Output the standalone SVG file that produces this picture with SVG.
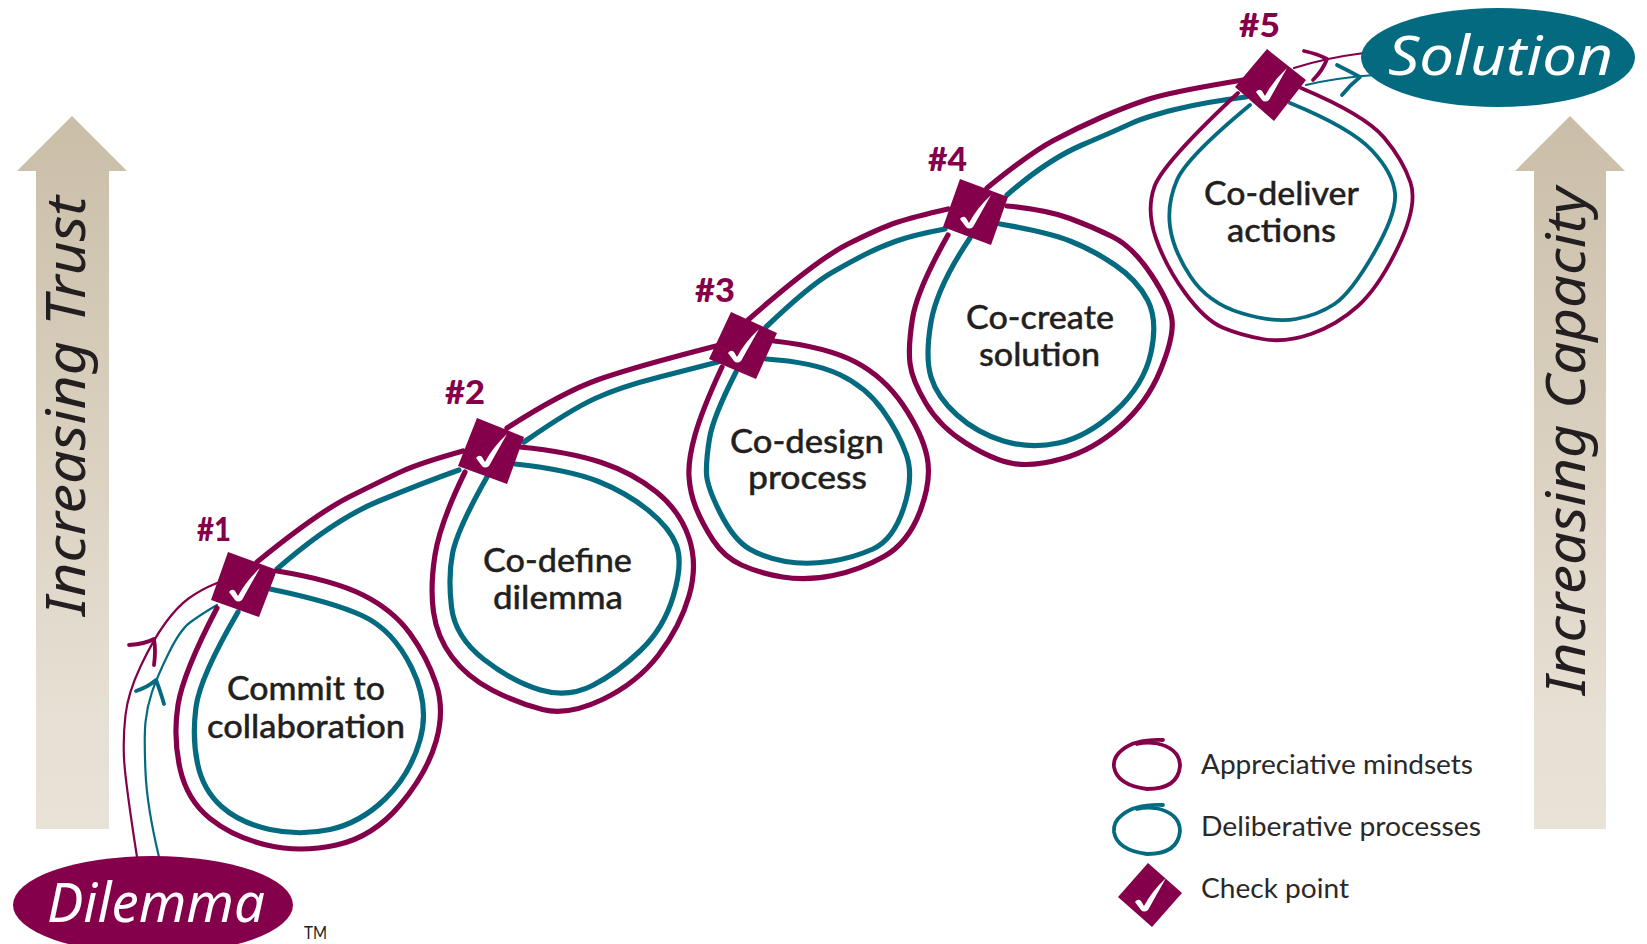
<svg xmlns="http://www.w3.org/2000/svg" width="1647" height="944" viewBox="0 0 1647 944">
<style>
.m{fill:none;stroke:#85004a;stroke-width:5.2;stroke-linecap:round;stroke-linejoin:round}
.t{fill:none;stroke:#036a80;stroke-width:5.2;stroke-linecap:round;stroke-linejoin:round}
.thin{stroke-width:2.2}
.mid{stroke-width:3.8}
.lab{font-family:"Lato","Open Sans",sans-serif;font-size:33px;font-weight:500;fill:#231f20;stroke:#231f20;stroke-width:.4}
.leg{font-family:"Lato","Open Sans",sans-serif;font-size:26px;fill:#2b2829}
.num{font-family:"Lato","Open Sans",sans-serif;font-size:32px;font-weight:900;fill:#85004a}
.hand{font-family:"Noto Sans","Open Sans",sans-serif;font-style:italic;font-size:54px}
.dia{fill:#85004a}
.chk{fill:#fff}
</style>
<defs>
<linearGradient id="g" gradientUnits="userSpaceOnUse" x1="0" y1="116" x2="0" y2="830">
<stop offset="0" stop-color="#cabea8"/><stop offset="0.85" stop-color="#e7e0d4"/><stop offset="1" stop-color="#e8e2d7"/>
</linearGradient>
<path id="c" d="M-15 7Q-12 3-9 6L-6 11Q2-4 16-17Q7-1-2 15Q-6 18-9 15Q-12 11-15 7Z"/>
</defs>

<g id="arrow-trust">
<path d="M72 116L127 171H109V829H36V171H17Z" fill="url(#g)"/>
<text class="hand" fill="#231f20" transform="translate(85,616) rotate(-90)" textLength="420" lengthAdjust="spacingAndGlyphs">Increasing Trust</text>
</g>
<g id="arrow-capacity">
<path d="M1570 116L1625 171H1606V829H1534V171H1515Z" fill="url(#g)"/>
<text class="hand" fill="#231f20" transform="translate(1585,695) rotate(-90)" textLength="508" lengthAdjust="spacingAndGlyphs">Increasing Capacity</text>
</g>

<g id="connectors">
<path class="m thin" d="M137 857Q125 780 124 758Q123 737 125.500 715Q128 693 140.500 666.500Q153 640 165 623.500Q177 607 188.500 598.500Q200 590 217 583"/>
<path class="t thin" d="M159 857Q147 807 145.500 772Q144 737 145.500 722Q147 707 152 692Q157 677 168.500 653.500Q180 630 190 622.500Q200 615 217 605"/>
<path class="m mid" d="M129 645Q145 644 154 639Q156 650 154 665"/>
<path class="t mid" d="M136 691Q148 687 156 680Q160 690 164 704"/>
<path class="m" d="M257 562Q317 513 350 496.500Q383 480 401.500 471.500Q420 463 463 451"/>
<path class="t" d="M277 569Q333 520 379 501Q425 482 459 470"/>
<path class="m" d="M507 428Q563 392 598.500 379.500Q634 367 716 346"/>
<path class="t" d="M524 442Q570 410 595 398.500Q620 387 659.500 377Q699 367 718 362"/>
<path class="m" d="M748 320Q816 260 848 244Q880 228 896.500 222.500Q913 217 948 209"/>
<path class="t" d="M766 327Q810 285 832 272.500Q854 260 867 253.500Q880 247 896.500 241Q913 235 945 229"/>
<path class="m" d="M987 188Q1030 153 1053.500 140.500Q1077 128 1101 117.500Q1125 107 1147.500 99.500Q1170 92 1243 80"/>
<path class="t" d="M1007 195Q1047 160 1082 145Q1117 130 1131 123.500Q1145 117 1175 109.500Q1205 102 1246 97"/>
<path class="m thin" d="M1294 68Q1325 58 1364 53"/>
<path class="t thin" d="M1306 85Q1335 78 1374 75"/>
<path class="m mid" d="M1304 51Q1318 54 1327 59Q1323 70 1313 80"/>
<path class="t mid" d="M1337 65Q1349 71 1360 77Q1350 85 1342 95"/>
</g>

<g id="step-1">
<path class="m" d="M277 571Q333 580 363 595Q393 610 410 633.500Q427 657 436 683.500Q445 710 436 741.500Q427 773 400 805Q373 837 336.500 845Q300 853 266.500 845Q233 837 210 818.500Q187 800 180 768.500Q173 737 178 705Q183 673 217 608"/>
<path class="t" d="M270 589Q333 602 363 616Q393 630 411.500 667.500Q430 705 420 740Q410 775 385 799Q360 823 330 829.500Q300 836 270 829.500Q240 823 221.500 806.500Q203 790 197.500 763.500Q192 737 196 707Q200 677 238 612"/>
<text class="lab" x="227" y="700" textLength="158" lengthAdjust="spacingAndGlyphs">Commit to</text>
<text class="lab" x="207" y="738" textLength="198" lengthAdjust="spacingAndGlyphs">collaboration</text>
</g>
<g id="step-2">
<path class="m" d="M520 447Q570 452 601.500 462.500Q633 473 656.500 492Q680 511 689 538Q698 565 689 596Q680 627 658.500 655Q637 683 602.500 699.500Q568 716 542.500 709.500Q517 703 492 690Q467 677 452 657Q437 637 433.500 612Q430 587 435 555Q440 523 465 472"/>
<path class="t" d="M515 464Q570 470 598.500 481.500Q627 493 648.500 510.500Q670 528 676.500 545.500Q683 563 673.500 595.500Q664 628 640.500 650.500Q617 673 592.500 685.500Q568 698 540.500 690Q513 682 484 659.500Q455 637 451.500 607Q448 577 452.500 553.500Q457 530 487 477"/>
<text class="lab" x="483" y="572" textLength="149" lengthAdjust="spacingAndGlyphs">Co-define</text>
<text class="lab" x="493" y="609" textLength="130" lengthAdjust="spacingAndGlyphs">dilemma</text>
</g>
<g id="step-3">
<path class="m" d="M774 341Q827 347 855.500 362Q884 377 903 405Q922 433 927 456.500Q932 480 920 511.500Q908 543 884 556.500Q860 570 833 575.500Q806 581 782.500 577Q759 573 741.500 565Q724 557 713 540Q702 523 696 508Q690 493 689 476.500Q688 460 695 435Q702 410 722 367"/>
<path class="t" d="M766 359Q813 362 839.500 374.500Q866 387 882.500 410Q899 433 906.500 455Q914 477 903.500 508.500Q893 540 873 549Q853 558 829.500 561.500Q806 565 785.500 561.500Q765 558 749.500 549Q734 540 720.500 513.500Q707 487 706.500 473.500Q706 460 709.500 438.500Q713 417 736 372"/>
<text class="lab" x="730" y="453" textLength="154" lengthAdjust="spacingAndGlyphs">Co-design</text>
<text class="lab" x="748" y="489" textLength="119" lengthAdjust="spacingAndGlyphs">process</text>
</g>
<g id="step-4">
<path class="m" d="M1007 206Q1047 210 1070 218.500Q1093 227 1113 237Q1133 247 1151.500 275Q1170 303 1172 320Q1174 337 1160.500 370Q1147 403 1120 426.500Q1093 450 1063 458.500Q1033 467 1013 463.500Q993 460 966.500 443.500Q940 427 926 403.500Q912 380 910 363.500Q908 347 912.500 318.500Q917 290 948 235"/>
<path class="t" d="M1000 224Q1047 232 1070 241Q1093 250 1115 265Q1137 280 1147.500 300Q1158 320 1151 352.500Q1144 385 1115.500 411Q1087 437 1058.500 443Q1030 449 1003.500 441Q977 433 957 415Q937 397 931 377Q925 357 931 322Q937 287 970 238"/>
<text class="lab" x="966" y="329" textLength="148" lengthAdjust="spacingAndGlyphs">Co-create</text>
<text class="lab" x="979" y="366" textLength="121" lengthAdjust="spacingAndGlyphs">solution</text>
</g>
<g id="step-5">
<path class="m mid" d="M1301 88Q1365 115 1384 137.500Q1403 160 1410.500 182.500Q1418 205 1398.500 246Q1379 287 1358 306Q1337 325 1311 334Q1285 343 1262.500 339Q1240 335 1222.500 327.500Q1205 320 1185.500 293.500Q1166 267 1156 238.500Q1146 210 1154.500 186.500Q1163 163 1238 93"/>
<path class="t mid" d="M1290 103Q1351 128 1372 150.500Q1393 173 1395 193Q1397 213 1374 253Q1351 293 1334.500 304Q1318 315 1296 319Q1274 323 1241 313Q1208 303 1190.500 276.500Q1173 250 1170 226.500Q1167 203 1177 180Q1187 157 1250 105"/>
<text class="lab" x="1204" y="205" textLength="155" lengthAdjust="spacingAndGlyphs">Co-deliver</text>
<text class="lab" x="1227" y="242" textLength="109" lengthAdjust="spacingAndGlyphs">actions</text>
</g>

<g id="check-1"><polygon class="dia" points="228,552 277,570 259,617 211,600"/><use href="#c" class="chk" x="244" y="585"/><text class="num" x="197" y="541" textLength="34" lengthAdjust="spacingAndGlyphs">#1</text></g>
<g id="check-2"><polygon class="dia" points="477,418 524,437 507,484 458,466"/><use href="#c" class="chk" x="491" y="451"/><text class="num" x="445" y="404" textLength="40" lengthAdjust="spacingAndGlyphs">#2</text></g>
<g id="check-3"><polygon class="dia" points="731,312 777,333 756,379 709,359"/><use href="#c" class="chk" x="743" y="346"/><text class="num" x="695" y="302" textLength="40" lengthAdjust="spacingAndGlyphs">#3</text></g>
<g id="check-4"><polygon class="dia" points="960,179 1008,197 991,245 943,227"/><use href="#c" class="chk" x="975" y="212"/><text class="num" x="928" y="171" textLength="39" lengthAdjust="spacingAndGlyphs">#4</text></g>
<g id="check-5"><polygon class="dia" points="1267,49 1306,80 1274,121 1235,87"/><use href="#c" class="chk" x="1271" y="85"/><text class="num" x="1239" y="37" textLength="41" lengthAdjust="spacingAndGlyphs">#5</text></g>

<g id="dilemma">
<ellipse cx="153" cy="905" rx="140" ry="49" fill="#85004a"/>
<text class="hand" fill="#fff" x="47" y="922" textLength="218" lengthAdjust="spacingAndGlyphs">Dilemma</text>
<text x="304" y="939" font-family="Lato,sans-serif" font-size="17" fill="#231f20" textLength="23" lengthAdjust="spacingAndGlyphs">TM</text>
</g>
<g id="solution">
<ellipse cx="1498" cy="57.500" rx="137" ry="49.500" fill="#036a80"/>
<text class="hand" fill="#fff" x="1388" y="75" textLength="225" lengthAdjust="spacingAndGlyphs">Solution</text>
</g>

<g id="legend-mindsets">
<path class="m mid" d="M1163 740Q1135 739 1122 750Q1113 757 1114 767Q1117 785 1147 789Q1178 789 1180 766Q1180 748 1155 743Q1145 742 1137 744"/>
<text class="leg" x="1201" y="774" textLength="272" lengthAdjust="spacingAndGlyphs">Appreciative mindsets</text>
</g>
<g id="legend-processes">
<path class="t mid" d="M1163 805Q1135 804 1122 815Q1113 822 1114 832Q1117 850 1147 854Q1178 854 1180 831Q1180 813 1155 808Q1145 807 1137 809"/>
<text class="leg" x="1201" y="836" textLength="280" lengthAdjust="spacingAndGlyphs">Deliberative processes</text>
</g>
<g id="legend-check">
<polygon class="dia" points="1148,863 1182,893 1152,927 1118,897"/><use href="#c" class="chk" x="1150" y="895"/>
<text class="leg" x="1201" y="898" textLength="148" lengthAdjust="spacingAndGlyphs">Check point</text>
</g>
</svg>
